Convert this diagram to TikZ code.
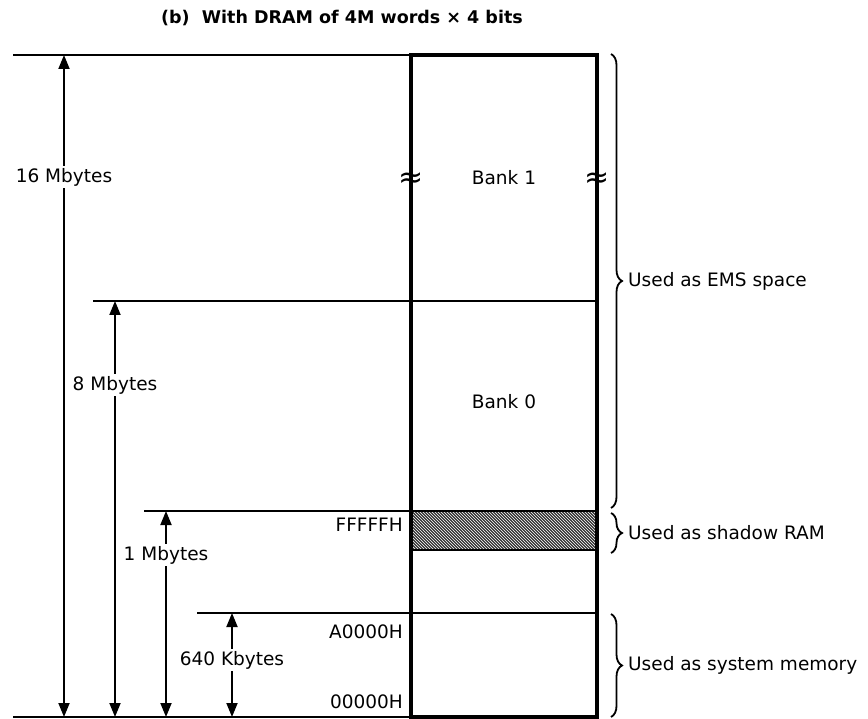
\documentclass[tikz,border=0pt]{standalone}
\usepackage{fontspec}
\setmainfont{DejaVu Sans}
\usetikzlibrary{arrows.meta,positioning,calc,patterns,decorations.pathreplacing}
\tikzset{
  lbl/.style={font=\fontsize{18.5}{20}\selectfont,inner sep=2pt},
  addr/.style={lbl,anchor=east},
  uselbl/.style={lbl,anchor=west},
  cutmark/.style={font=\fontsize{30}{30}\selectfont,inner sep=0pt},
  extline/.style={line width=2pt},
  memwall/.style={line width=3.5pt},
  dimarrow/.style={-{Triangle[length=14pt,width=11pt]},line width=1.8pt},
  usebrace/.style={decorate,decoration={brace,amplitude=11pt},line width=1.8pt}
}
\begin{document}
\begin{tikzpicture}[x=1pt,y=-1pt]
\useasboundingbox (0,0) rectangle (868,719);

\node[font=\bfseries\fontsize{17.5}{19}\selectfont] (title) at (342,18)
{(b)\ \ With DRAM of 4M words × 4 bits};

% levels of the memory map
\coordinate (tl) at (411,55);
\coordinate (tr) at (597,55);
\coordinate (bl) at (411,717);
\coordinate (br) at (597,717);
\coordinate (top16) at (13,55);
\coordinate (bot) at (13,717);
\coordinate (lev8) at (93,301);
\coordinate (lev1) at (144,511);
\coordinate (lev640) at (197,613);
\coordinate (shtop) at (411,511);
\coordinate (shbot) at (597,550);

% shadow RAM area
\fill[black!80] (shtop) rectangle (shbot);
\pattern[pattern=north west lines,pattern color=white] (shtop) rectangle (shbot);
\draw[extline] (shtop) -- (shtop -| tr);
\draw[extline] (shbot -| tl) -- (shbot);

% extension lines
\draw[extline] (top16) -- (tl);
\draw[extline] (bot) -- (bl);
\draw[extline] (lev8) -- (lev8 -| tr);
\draw[extline] (lev1) -- (lev1 -| tl);
\draw[extline] (lev640) -- (lev640 -| tr);

\draw[memwall] (tl) rectangle (br);

\node[cutmark] (cutl) at (411,180) {≈};
\node[cutmark] (cutr) at (597,180) {≈};
\node[lbl] (bank1) at (504,178) {Bank 1};
\node[lbl] (bank0) at (504,402) {Bank 0};

% sizes
\node[lbl] (m16) at (64,177) {16 Mbytes};
\node[lbl] (m8) at (115,385) {8 Mbytes};
\node[lbl] (m1) at (166,555) {1 Mbytes};
\node[lbl] (k640) at (232,660) {640 Kbytes};

\draw[dimarrow] (m16.north) -- (m16.north |- top16);
\draw[dimarrow] (m16.south) -- (m16.south |- bot);
\draw[dimarrow] (m8.north) -- (m8.north |- lev8);
\draw[dimarrow] (m8.south) -- (m8.south |- bot);
\draw[dimarrow] (m1.north) -- (m1.north |- lev1);
\draw[dimarrow] (m1.south) -- (m1.south |- bot);
\draw[dimarrow] (k640.north) -- (k640.north |- lev640);
\draw[dimarrow] (k640.south) -- (k640.south |- bot);

% addresses
\node[addr] (aF) at (405,525) {FFFFFH};
\node[addr] (aA) at (405,632) {A0000H};
\node[addr] (a0) at (405,702) {00000H};

% usage
\coordinate (ems1) at (611,54);
\coordinate (ems2) at (611,508);
\coordinate (sh1) at (611,513);
\coordinate (sh2) at (611,553);
\coordinate (sys1) at (611,614);
\coordinate (sys2) at (611,717);
\draw[usebrace] (ems1) -- (ems2);
\draw[usebrace] (sh1) -- (sh2);
\draw[usebrace] (sys1) -- (sys2);
\node[uselbl] (ems) at ($(ems1)!.5!(ems2)+(15,0)$) {Used as EMS space};
\node[uselbl] (shadow) at ($(sh1)!.5!(sh2)+(15,0)$) {Used as shadow RAM};
\node[uselbl] (sysmem) at ($(sys1)!.5!(sys2)+(15,0)$) {Used as system memory};
\end{tikzpicture}
\end{document}
